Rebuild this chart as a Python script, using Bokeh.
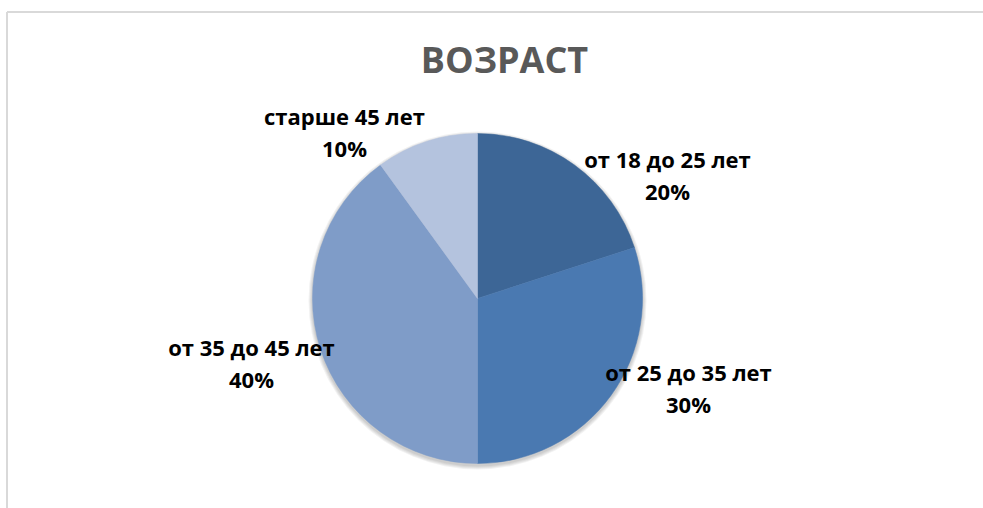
import numpy as np
from bokeh.plotting import figure
from bokeh.models import Range1d, ColumnDataSource
from bokeh.core.properties import value
from bokeh.embed import file_html
from bokeh.resources import INLINE

# ---- data ----
title_text = "ВОЗРАСТ"
categories = ["от 18 до 25 лет", "от 25 до 35 лет", "от 35 до 45 лет", "старше 45 лет"]
shares = [20, 30, 40, 10]
colors = ["#3D6696", "#4A79B1", "#7F9CC8", "#B4C3DE"]

# ---- layout (pixels, y measured from top of the page) ----
W, H = 983, 508
CX, CY, R = 477, 298, 165
# label block centres, as offsets from the pie centre (px, down is positive)
label_offsets = [(190, -124), (211, 89), (-226, 64), (-133, -167)]
LINE_GAP = 32
FONT = "Open Sans"

def py(y):  # page y (from top) -> data y
    return H - y

p = figure(width=W, height=H, output_backend="svg", toolbar_location=None,
           x_range=Range1d(0, W), y_range=Range1d(0, H), min_border=0,
           match_aspect=False)
p.axis.visible = False
p.grid.visible = False
p.outline_line_color = None
p.background_fill_color = "white"
p.border_fill_color = "white"

# chart border (top and left edges visible in the crop)
p.segment(x0=[6.5, 6.5], y0=[py(11.5), py(11.5)], x1=[W + 20, 6.5], y1=[py(11.5), -20],
          line_color="#D9D9D9", line_width=2)

# soft shadow under the pie
for i, a in enumerate([0.05, 0.05, 0.05, 0.05]):
    p.circle(x=[CX], y=[py(CY + 2)], radius=R + 4 - i, fill_color="#000000",
             fill_alpha=a, line_color=None)

# wedges
total = float(sum(shares))
fracs = np.array(shares) / total
ends = np.cumsum(fracs)
starts = ends - fracs
start_angle = np.pi / 2 - 2 * np.pi * starts
end_angle = np.pi / 2 - 2 * np.pi * ends
src = ColumnDataSource(dict(start=start_angle, end=end_angle, color=colors))
p.wedge(x=CX, y=py(CY), radius=R, start_angle="start", end_angle="end",
        direction="clock", fill_color="color", line_color="color",
        line_width=0.5, source=src)

# labels
pcts = [f"{int(round(f * 100))}%" for f in fracs]
lx = [CX + dx for dx, dy in label_offsets]
ly1 = [py(CY + dy - LINE_GAP / 2) for dx, dy in label_offsets]
ly2 = [py(CY + dy + LINE_GAP / 2) for dx, dy in label_offsets]
p.text(x=lx, y=ly1, text=categories, text_font=value(FONT), text_font_style="bold",
       text_font_size="22px", text_color="#000000", text_align="center",
       text_baseline="middle")
p.text(x=lx, y=ly2, text=pcts, text_font=value(FONT), text_font_style="bold",
       text_font_size="22px", text_color="#000000", text_align="center",
       text_baseline="middle")

# title
p.text(x=[504], y=[py(59)], text=[title_text], text_font=value(FONT),
       text_font_style="bold", text_font_size="36px", text_color="#595959",
       text_align="center", text_baseline="middle")

open("out.html", "w").write(file_html(p, INLINE))
